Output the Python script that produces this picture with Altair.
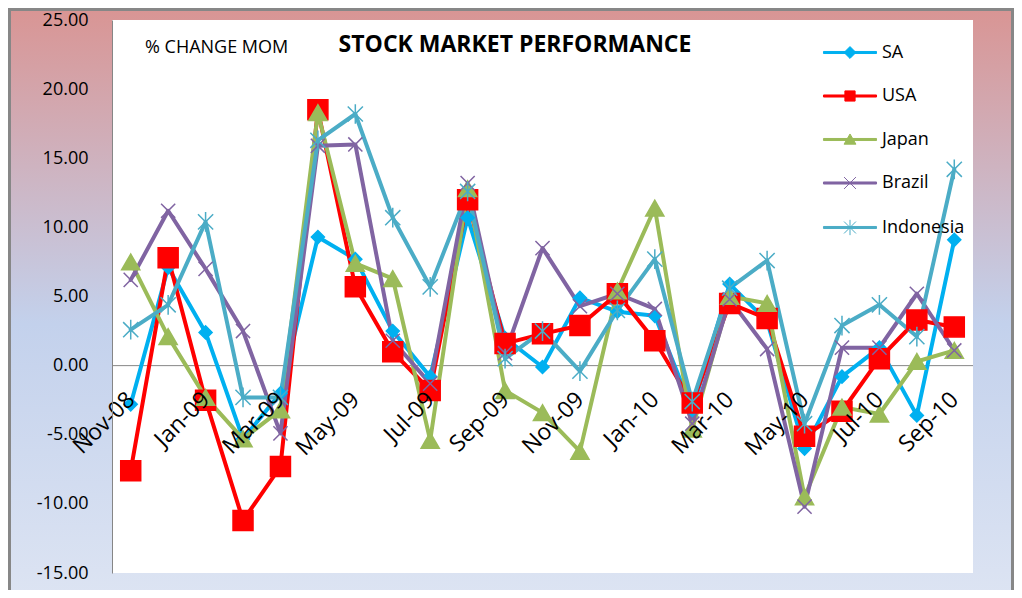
import altair as alt
import pandas as pd

months = ["Nov-08", "Dec-08", "Jan-09", "Feb-09", "Mar-09", "Apr-09", "May-09", "Jun-09",
          "Jul-09", "Aug-09", "Sep-09", "Oct-09", "Nov-09", "Dec-09", "Jan-10", "Feb-10",
          "Mar-10", "Apr-10", "May-10", "Jun-10", "Jul-10", "Aug-10", "Sep-10"]
label_months = months[::2]

series = ["SA", "USA", "Japan", "Brazil", "Indonesia"]
colors = ["#00B0F0", "#FF0000", "#9BBB59", "#8064A2", "#4BACC6"]

sa = [-2.8, 7.1, 2.4, -5.3, -2.0, 9.3, 7.7, 2.5, -0.8, 10.7, 2.0, -0.1, 4.9, 3.9, 3.6, -3.2,
      5.9, 3.2, -6.0, -0.8, 1.3, -3.6, 9.1]
usa = [-7.6, 7.8, -2.5, -11.2, -7.3, 18.5, 5.7, 1.0, -1.8, 12.0, 1.6, 2.3, 2.9, 5.2, 1.8, -2.7,
       4.5, 3.4, -5.1, -3.3, 0.5, 3.3, 2.8]
japan = [7.5, 2.1, -2.3, -5.3, -3.2, 18.3, 7.4, 6.3, -5.4, 12.8, -1.8, -3.4, -6.2, 5.4, 11.4, -4.6,
         5.0, 4.5, -9.5, -3.0, -3.5, 0.3, 1.1]
brazil = [6.2, 11.2, 7.0, 2.5, -4.9, 15.9, 16.0, 1.8, -1.3, 13.2, 0.9, 8.5, 4.3, 5.2, 4.1, -4.2,
          4.8, 1.2, -10.2, 1.3, 1.3, 5.2, 1.1]
indonesia = [2.6, 4.4, 10.4, -2.3, -2.3, 16.3, 18.2, 10.7, 5.7, 12.6, 0.5, 2.5, -0.4, 4.0, 7.7, -2.6,
             5.6, 7.6, -4.2, 2.9, 4.4, 2.1, 14.2]

# marker shapes used on the plot
shapes = ["diamond", "square", "triangle-up",
          "M-1,-1L1,1M-1,1L1,-1",
          "M-1,-1L1,1M-1,1L1,-1M0,-1.3L0,1.3"]
marker_sizes = [170, 400, 330, 200, 230]

# legend symbols: a short line with the series marker on it
seg = "M-3.12,-0.12L3.12,-0.12L3.12,0.12L-3.12,0.12Z"
legend_shapes = [seg + "M0,-0.7L0.7,0L0,0.7L-0.7,0Z",
                 seg + "M-0.6,-0.6L0.6,-0.6L0.6,0.6L-0.6,0.6Z",
                 seg + "M0,-0.65L0.7,0.55L-0.7,0.55Z",
                 seg + "M-0.7,-0.7L0.7,0.7M-0.7,0.7L0.7,-0.7",
                 seg + "M-0.7,-0.7L0.7,0.7M-0.7,0.7L0.7,-0.7M0,-0.9L0,0.9"]

rows = []
for k, (name, vals) in enumerate(zip(series, [sa, usa, japan, brazil, indonesia])):
    for i, (m, v) in enumerate(zip(months, vals)):
        rows.append({"month": m, "idx": i, "series": name, "value": v, "order": k})
df = pd.DataFrame(rows)
legend_df = pd.DataFrame({"series": series})
one = pd.DataFrame({"a": [0]})

W, H = 861, 553
FONT = "Open Sans"

x_enc = alt.X("month:N", sort=months,
              scale=alt.Scale(type="point", padding=0.5),
              axis=alt.Axis(values=label_months, labelAngle=-45, offset=-(H - H * 25 / 40),
                            domain=False, ticks=False, grid=False, title=None,
                            labelFont=FONT, labelFontSize=23, labelColor="black",
                            labelAlign="right", labelBaseline="middle",
                            labelPadding=30, zindex=1))
y_enc = alt.Y("value:Q",
              scale=alt.Scale(domain=[-15, 25], nice=False, zero=False),
              axis=alt.Axis(values=[-15, -10, -5, 0, 5, 10, 15, 20, 25],
                            labelExpr="(datum.value < 0 ? '-' : '') + format(abs(datum.value), '.2f')",
                            grid=False, ticks=False, title=None, domainColor="#868686",
                            domainWidth=1, labelFont=FONT, labelFontSize=18,
                            labelColor="black", labelPadding=24, zindex=1))

gradient = alt.Gradient(
    gradient="linear",
    stops=[alt.GradientStop(color="#D99594", offset=0),
           alt.GradientStop(color="#C3D1EC", offset=0.52),
           alt.GradientStop(color="#DEE5F3", offset=1)],
    x1=0, x2=0, y1=0, y2=1)

bg = alt.Chart(one).mark_rect(fill=gradient, stroke="#878787", strokeWidth=3).encode(
    x=alt.value(-102.5), x2=alt.value(W + 39.5), y=alt.value(-10.5), y2=alt.value(H + 40))

plot_bg = alt.Chart(one).mark_rect(fill="white").encode(
    x=alt.value(0), x2=alt.value(W), y=alt.value(0), y2=alt.value(H))

zero = alt.Chart(one).mark_rule(color="#868686", strokeWidth=1).encode(y=alt.datum(0))

lines = alt.Chart(df).mark_line(strokeWidth=4, strokeJoin="round", strokeCap="round").encode(
    x=x_enc, y=y_enc,
    color=alt.Color("series:N", scale=alt.Scale(domain=series, range=colors), legend=None),
    order=alt.Order("idx:Q"))

points = alt.Chart(df).mark_point(filled=True, strokeWidth=1.5, opacity=1).encode(
    x=x_enc, y=y_enc,
    fill=alt.Fill("series:N", scale=alt.Scale(domain=series, range=colors), legend=None),
    stroke=alt.Stroke("series:N", scale=alt.Scale(domain=series, range=colors), legend=None),
    shape=alt.Shape("series:N", scale=alt.Scale(domain=series, range=shapes), legend=None),
    size=alt.Size("series:N", scale=alt.Scale(type="ordinal", domain=series, range=marker_sizes),
                  legend=None))

legend = alt.Legend(title=None, orient="none", legendX=729, legendY=23.5,
                    symbolSize=289, symbolStrokeWidth=1,
                    labelFont=FONT, labelFontSize=18, labelColor="black",
                    labelOffset=23, rowPadding=25.5, padding=0)

legend_layer = alt.Chart(legend_df).mark_point(filled=True, strokeWidth=1, opacity=1, clip=True).encode(
    x=alt.value(-200), y=alt.value(-200),
    fill=alt.Fill("series:N", scale=alt.Scale(domain=series, range=colors), legend=legend),
    stroke=alt.Stroke("series:N", scale=alt.Scale(domain=series, range=colors), legend=legend),
    shape=alt.Shape("series:N", scale=alt.Scale(domain=series, range=legend_shapes), legend=legend))

title_text = alt.Chart(one).mark_text(text="STOCK MARKET PERFORMANCE", font=FONT, fontSize=23,
                                      fontWeight="bold", color="black", align="center",
                                      baseline="middle").encode(x=alt.value(403), y=alt.value(25))
sub_text = alt.Chart(one).mark_text(text="% CHANGE MOM", font=FONT, fontSize=18,
                                    color="black", align="left",
                                    baseline="middle").encode(x=alt.value(33), y=alt.value(28))

chart = alt.layer(bg, plot_bg, zero, lines, points, legend_layer, title_text, sub_text).resolve_scale(
    fill="independent", stroke="independent", shape="independent", size="independent"
).properties(
    width=W, height=H,
    padding={"left": 104, "top": 12, "right": 41, "bottom": 17},
    autosize=alt.AutoSizeParams(type="none"),
).configure_view(strokeWidth=0)

chart.save("out.html", embed_options={"renderer": "svg", "actions": False})
